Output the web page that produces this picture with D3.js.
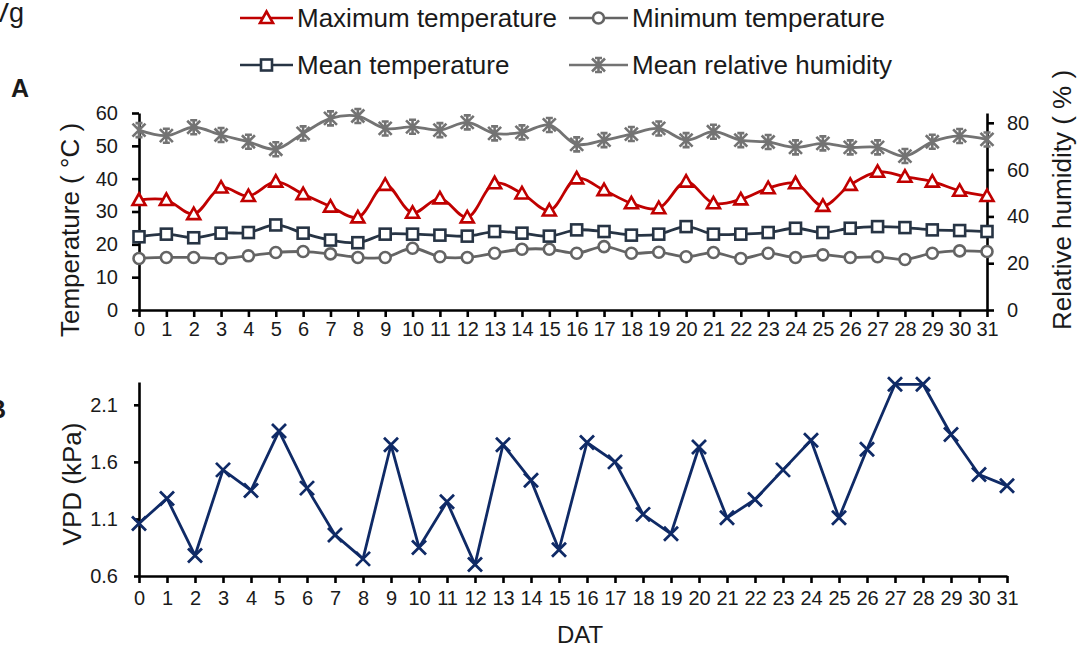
<!DOCTYPE html>
<html>
<head>
<meta charset="utf-8">
<script src="https://cdn.jsdelivr.net/npm/d3@7"></script>
<style>
  body { margin: 0; background: #fff; }
  svg text { font-family: 'Liberation Sans', Arial, sans-serif; fill: #1a1a1a; }
</style>
</head>
<body>
<div class="chart-container"></div>
<script>
// Data
const dat = [0,1,2,3,4,5,6,7,8,9,10,11,12,13,14,15,16,17,18,19,20,21,22,23,24,25,26,27,28,29,30,31];
const max_temp = [33.5,33.5,29.2,37.3,34.7,39.1,35.3,31.5,28.2,38.1,29.6,34.0,28.2,38.6,35.5,30.3,
                  40.1,36.5,32.5,31.0,39.1,32.5,33.7,37.1,38.6,31.7,38.1,42.1,40.6,39.1,36.3,34.7];
const mean_temp = [22.3,23.1,22.0,23.4,23.6,25.9,23.4,21.3,20.5,23.1,23.1,22.8,22.5,23.9,23.4,22.5,
                   24.4,23.9,22.8,23.1,25.4,23.1,23.1,23.6,24.9,23.6,24.9,25.4,25.1,24.4,24.2,23.9];
const min_temp = [15.7,16.0,16.0,15.7,16.5,17.5,17.8,17.1,16.0,16.0,18.8,16.2,16.0,17.3,18.5,18.5,
                  17.3,19.3,17.3,17.6,16.2,17.5,15.7,17.3,16.0,16.8,16.0,16.2,15.4,17.3,18.0,17.8];
const mean_rh = [76.9,74.5,78.1,74.8,71.9,68.7,75.5,81.9,82.9,77.6,78.3,76.9,80.2,75.5,75.9,79.1,
                 70.8,72.6,75.2,77.6,72.6,76.2,72.6,71.8,69.5,71.2,69.5,69.5,65.8,71.9,74.4,72.9];
const vpd = [1.06,1.28,0.78,1.53,1.35,1.87,1.37,0.96,0.75,1.75,0.85,1.25,0.70,1.75,1.44,0.83,
             1.77,1.60,1.14,0.97,1.73,1.11,1.27,1.53,1.79,1.11,1.71,2.28,2.28,1.84,1.49,1.39];

// tick labels
const temp_ticks = [0,10,20,30,40,50,60];
const rh_ticks = [0,20,40,60,80];
const vpd_ticks = [0.6,1.1,1.6,2.1];

const svg_width = 1081;
const svg_height = 650;

const svg = d3.select('.chart-container')
              .append('svg')
              .attr('width', svg_width)
              .attr('height', svg_height);

// ---- scales
const x_a = d3.scaleLinear().domain([0, 31]).range([139, 987]);
const y_temp = d3.scaleLinear().domain([0, 60]).range([310, 113]);
const y_rh = d3.scaleLinear().domain([0, 84.2]).range([310, 113]);
const x_b = d3.scaleLinear().domain([0, 31]).range([139, 1007]);
const y_vpd = d3.scaleLinear().domain([0.6, 2.3]).range([576, 382]);

// axis styling helper
function style_axis(g, font_size){
    g.selectAll('path.domain').attr('stroke', '#000').attr('stroke-width', 2.6);
    g.selectAll('.tick line').attr('stroke', '#000').attr('stroke-width', 2.6);
    g.selectAll('.tick text')
        .style('font-family', "'Liberation Sans', Arial, sans-serif")
        .style('font-size', font_size + 'px')
        .attr('fill', '#1a1a1a');
}

// ---- Panel A axes
const xa_axis = svg.append('g')
    .attr('transform', 'translate(0, 310)')
    .call(d3.axisBottom(x_a).tickValues(dat).tickFormat(d3.format('d')).tickSizeInner(7).tickSizeOuter(0).tickPadding(5));
style_axis(xa_axis, 20);

const ya_axis = svg.append('g')
    .attr('transform', 'translate(139, 0)')
    .call(d3.axisLeft(y_temp).tickValues(temp_ticks).tickSizeInner(7).tickSizeOuter(0).tickPadding(14));
style_axis(ya_axis, 20);

const yr_axis = svg.append('g')
    .attr('transform', 'translate(987, 0)')
    .call(d3.axisRight(y_rh).tickValues(rh_ticks).tickSizeInner(7).tickSizeOuter(0).tickPadding(13));
style_axis(yr_axis, 20);

// ---- Panel B axes
const xb_axis = svg.append('g')
    .attr('transform', 'translate(0, 576)')
    .call(d3.axisBottom(x_b).tickValues(dat).tickFormat(d3.format('d')).tickSizeInner(7).tickSizeOuter(0).tickPadding(8));
style_axis(xb_axis, 20);

const yb_axis = svg.append('g')
    .attr('transform', 'translate(139, 0)')
    .call(d3.axisLeft(y_vpd).tickValues(vpd_ticks).tickFormat(d3.format('.1f')).tickSizeInner(5).tickSizeOuter(0).tickPadding(16));
style_axis(yb_axis, 20);

// ---- markers
function draw_marker(g, type, color){
    if(type === 'triangle'){
        g.append('path').attr('d', 'M0,-6.5L6.5,5L-6.5,5Z')
            .attr('fill', '#fff').attr('stroke', color).attr('stroke-width', 2.6);
    }else if(type === 'square'){
        g.append('rect').attr('x', -5.5).attr('y', -5.5).attr('width', 11).attr('height', 11)
            .attr('fill', '#fff').attr('stroke', color).attr('stroke-width', 2.6);
    }else if(type === 'circle'){
        g.append('circle').attr('r', 5.5)
            .attr('fill', '#fff').attr('stroke', color).attr('stroke-width', 2.6);
    }else if(type === 'star'){
        g.append('path')
            .attr('d', 'M-6.5,-6.5L6.5,6.5M6.5,-6.5L-6.5,6.5M0,-7.5L0,7.5M-3.5,-7L3.5,-7M-3.5,7L3.5,7')
            .attr('fill', 'none').attr('stroke', color).attr('stroke-width', 2.6);
    }else if(type === 'cross'){
        g.append('path').attr('d', 'M-7,-7L7,7M7,-7L-7,7')
            .attr('fill', 'none').attr('stroke', color).attr('stroke-width', 2.8);
    }
}

const series_a = [
    {name: 'Minimum temperature', values: min_temp, color: '#646464', marker: 'circle', y: y_temp},
    {name: 'Mean temperature', values: mean_temp, color: '#273444', marker: 'square', y: y_temp},
    {name: 'Maximum temperature', values: max_temp, color: '#c00000', marker: 'triangle', y: y_temp},
    {name: 'Mean relative humidity', values: mean_rh, color: '#737373', marker: 'star', y: y_rh}
];

series_a.forEach(s => {
    const line = d3.line()
        .x((d, i) => x_a(dat[i]))
        .y(d => s.y(d))
        .curve(d3.curveCatmullRom.alpha(0.5));
    svg.append('path')
        .datum(s.values)
        .attr('d', line)
        .attr('fill', 'none')
        .attr('stroke', s.color)
        .attr('stroke-width', 2.8);
    svg.append('g').selectAll('g')
        .data(s.values)
        .join('g')
        .attr('transform', (d, i) => `translate(${x_a(dat[i])}, ${s.y(d)})`)
        .each(function(){ draw_marker(d3.select(this), s.marker, s.color); });
});

// VPD series
const vpd_color = '#0f2a66';
svg.append('path')
    .datum(vpd)
    .attr('d', d3.line().x((d, i) => x_b(dat[i])).y(d => y_vpd(d)))
    .attr('fill', 'none')
    .attr('stroke', vpd_color)
    .attr('stroke-width', 2.8)
    .attr('stroke-linejoin', 'round');
svg.append('g').selectAll('g')
    .data(vpd)
    .join('g')
    .attr('transform', (d, i) => `translate(${x_b(dat[i])}, ${y_vpd(d)})`)
    .each(function(){ draw_marker(d3.select(this), 'cross', vpd_color); });

// ---- legend
const legend_items = [
    {label: 'Maximum temperature', color: '#c00000', marker: 'triangle', x: 240, y: 18},
    {label: 'Minimum temperature', color: '#646464', marker: 'circle', x: 569, y: 18},
    {label: 'Mean temperature', color: '#273444', marker: 'square', x: 240, y: 65},
    {label: 'Mean relative humidity', color: '#737373', marker: 'star', x: 569, y: 65}
];
const legend = svg.append('g').attr('class', 'legend');
legend_items.forEach(d => {
    const g = legend.append('g').attr('transform', `translate(${d.x}, ${d.y})`);
    const w = d.x === 240 ? 53 : 59;
    g.append('line').attr('x1', 0).attr('x2', w).attr('y1', 0).attr('y2', 0)
        .attr('stroke', d.color).attr('stroke-width', 2.6);
    draw_marker(g.append('g').attr('transform', `translate(${w / 2}, 0)`), d.marker, d.color);
    g.append('text').attr('x', w + 4).attr('y', 9)
        .style('font-size', '26px').text(d.label);
});

// ---- axis titles
svg.append('text')
    .attr('transform', 'translate(79, 230) rotate(-90)')
    .attr('text-anchor', 'middle')
    .style('font-size', '26px')
    .text('Temperature ( °C )');
svg.append('text')
    .attr('transform', 'translate(1071, 200) rotate(-90)')
    .attr('text-anchor', 'middle')
    .style('font-size', '26px')
    .text('Relative humidity ( % )');
svg.append('text')
    .attr('transform', 'translate(81, 484) rotate(-90)')
    .attr('text-anchor', 'middle')
    .style('font-size', '26px')
    .text('VPD (kPa)');
svg.append('text')
    .attr('x', 580).attr('y', 643)
    .attr('text-anchor', 'middle')
    .style('font-size', '24px')
    .text('DAT');

// ---- panel letters and leftover text clipped at the left edge, as in the source figure
svg.append('text').attr('x', 11).attr('y', 97)
    .style('font-size', '25px').style('font-weight', 'bold').text('A');
svg.append('text').attr('x', -12).attr('y', 418)
    .style('font-size', '25px').style('font-weight', 'bold').text('B');
svg.append('text').attr('x', -9).attr('y', 22)
    .style('font-size', '27px').text('Vg');
</script>
</body>
</html>
